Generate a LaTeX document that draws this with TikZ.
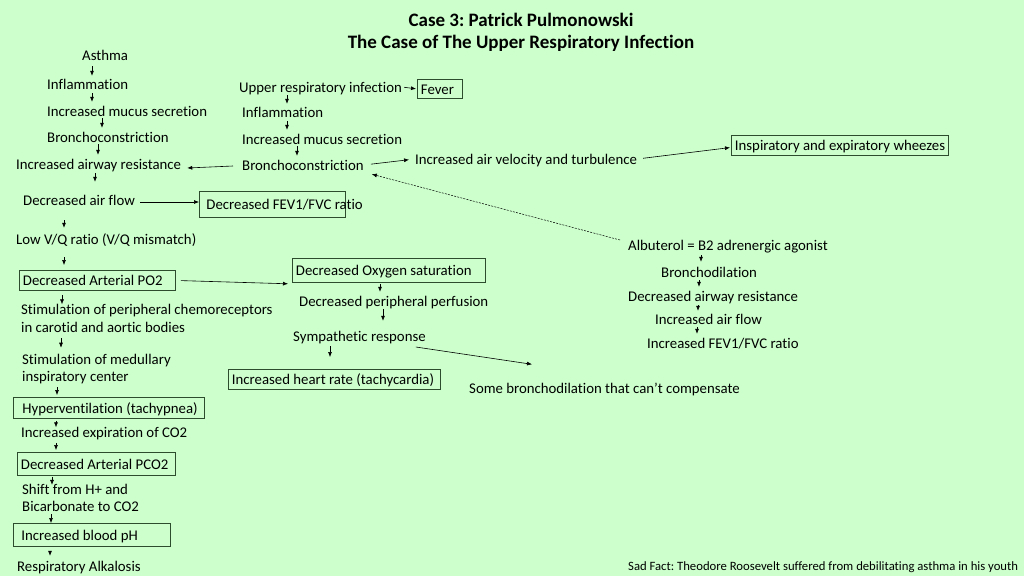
\documentclass[tikz,border=0pt]{standalone}
\usepackage{fontspec}
\setmainfont{Carlito}[Ligatures=NoCommon]
\usetikzlibrary{arrows.meta}
\definecolor{bg}{RGB}{204,255,204}
\definecolor{bord}{RGB}{45,75,45}
\frenchspacing
\begin{document}
\begin{tikzpicture}[x=1pt,y=-1pt,
  base/.style={inner sep=0pt, font=\fontsize{14.8}{17.5}\selectfont},
  txt/.style={base, anchor=west, text height=12pt, text depth=1pt},
  ml/.style={base, anchor=west, align=left},
  bx/.style={draw=bord, line width=0.9pt, anchor=north west, inner xsep=3.5pt, inner ysep=0pt,
             font=\fontsize{14.8}{17.5}\selectfont, text height=12pt, text depth=1pt},
  ttl/.style={inner sep=0pt, font=\fontsize{19}{22}\selectfont\bfseries},
  arr/.style={-{Latex[length=5pt,width=4pt]}, line width=0.6pt},
  sh/.style 2 args={arr, shorten <=#1, shorten >=#2}
]
\fill[bg] (0,0) rectangle (1024,576);
\useasboundingbox (0,0) rectangle (1024,576);

% title
\node[ttl] (t1) at (521,19.5) {Case 3: Patrick Pulmonowski};
\node[ttl] (t2) at (521,43.5) {The Case of The Upper Respiratory Infection};

% left column
\node[txt] (asthma) at (82,55) {Asthma};
\node[txt] (inf1) at (47,84) {Inflammation};
\node[txt] (mucus1) at (47,111) {Increased mucus secretion};
\node[txt] (bronch1) at (47,137) {Bronchoconstriction};
\node[txt] (iar) at (16,164) {Increased airway resistance};
\node[txt] (daf) at (23,200) {Decreased air flow};
\node[bx, minimum height=26pt] (fev) at (199,191) {\makebox[139pt][l]{\hspace*{3.5pt}Decreased FEV1/FVC ratio}};
\node[txt] (vq) at (16,239) {Low V/Q ratio (V/Q mismatch)};
\node[bx, minimum height=20pt] (po2) at (19,270) {\makebox[149pt][l]{Decreased Arterial PO2}};
\node[ml] (chemo) at (21,318.5) {Stimulation of peripheral chemoreceptors\\in carotid and aortic bodies};
\node[ml] (medul) at (22,369) {Stimulation of medullary\\inspiratory center};
\node[bx, minimum height=21pt] (hyper) at (13,397) {\makebox[184pt][l]{\hspace*{5.5pt}Hyperventilation (tachypnea)}};
\node[txt] (expir) at (21,432) {Increased expiration of CO2};
\node[bx, minimum height=23pt] (pco2) at (17,452) {\makebox[151pt][l]{Decreased Arterial PCO2}};
\node[ml] (shift) at (22,498) {Shift from H+ and\\Bicarbonate to CO2};
\node[bx, minimum height=23pt] (ph) at (13,523) {\makebox[150pt][l]{\hspace*{4.5pt}Increased blood pH}};
\node[txt] (alk) at (17,566) {Respiratory Alkalosis};

% middle column
\node[txt] (uri) at (239,87) {Upper respiratory infection};
\node[bx, minimum height=19pt] (fever) at (417,79) {\makebox[38pt][l]{Fever}};
\node[txt] (inf2) at (242,112) {Inflammation};
\node[txt] (mucus2) at (242,139) {Increased mucus secretion};
\node[txt] (bronch2) at (242,165) {Bronchoconstriction};
\node[txt] (vel) at (415,159) {Increased air velocity and turbulence};
\node[bx, minimum height=20pt] (insp) at (731,135) {\makebox[210pt][l]{Inspiratory and expiratory wheezes}};
\node[bx, minimum height=24pt] (o2sat) at (292,258) {\makebox[186pt][l]{Decreased Oxygen saturation}};
\node[txt] (perf) at (299,301) {Decreased peripheral perfusion};
\node[txt] (symp) at (293,336) {Sympathetic response};
\node[bx, minimum height=20pt] (heart) at (228,369) {\makebox[205pt][l]{Increased heart rate (tachycardia)}};
\node[txt] (some) at (469,388) {Some bronchodilation that can’t compensate};

% right column
\node[txt] (alb) at (628,245) {Albuterol = B2 adrenergic agonist};
\node[txt] (bdil) at (661,272) {Bronchodilation};
\node[txt] (dar) at (628,296) {Decreased airway resistance};
\node[txt] (iaf) at (655,319) {Increased air flow};
\node[txt] (ifev) at (647,343) {Increased FEV1/FVC ratio};

\node[inner sep=0pt, anchor=west, font=\fontsize{12.7}{15}\selectfont, text height=10pt, text depth=1pt] (sad) at (628,566) {Sad Fact: Theodore Roosevelt suffered from debilitating asthma in his youth};

% vertical arrows, left
\draw[sh={4.5pt}{1.5pt}] ([xshift=10pt]asthma.south west) -- ([xshift=10pt]asthma.south west |- inf1.north);
\draw[sh={2.5pt}{2.5pt}] ([xshift=45pt]inf1.south west) -- ([xshift=45pt]inf1.south west |- mucus1.north);
\draw[sh={0.5pt}{2.5pt}] ([xshift=55pt]mucus1.south west) -- ([xshift=55pt]mucus1.south west |- bronch1.north);
\draw[sh={0.5pt}{2.5pt}] ([xshift=51pt]bronch1.south west) -- ([xshift=51pt]bronch1.south west |- iar.north);
\draw[sh={2.5pt}{11.5pt}] ([xshift=79pt]iar.south west) -- ([xshift=79pt]iar.south west |- daf.north);
\draw[sh={13.5pt}{4.5pt}] ([xshift=41pt]daf.south west) -- ([xshift=41pt]daf.south west |- vq.north);
\draw[sh={11.5pt}{5pt}] ([xshift=48pt]vq.south west) -- ([xshift=48pt]vq.south west |- po2.north);
\draw[sh={4pt}{0pt}] ([xshift=43pt]po2.south west) -- ([xshift=43pt]po2.south west |- chemo.north);
\draw[sh={5.5pt}{6pt}] ([xshift=40pt]chemo.south west) -- ([xshift=40pt]chemo.south west |- medul.north);
\draw[sh={3pt}{2pt}] ([xshift=35pt]medul.south west) -- ([xshift=35pt]medul.south west |- hyper.north);
\draw[sh={2pt}{-2pt}] ([xshift=43pt]hyper.south west) -- ([xshift=43pt]hyper.south west |- expir.north);
\draw[sh={4.5pt}{2pt}] ([xshift=35pt]expir.south west) -- ([xshift=35pt]expir.south west |- pco2.north);
\draw[sh={1pt}{-1pt}] ([xshift=35pt]pco2.south west) -- ([xshift=35pt]pco2.south west |- shift.north);
\draw[sh={2pt}{0pt}] ([xshift=29pt]shift.south west) -- ([xshift=29pt]shift.south west |- ph.north);
\draw[sh={4pt}{3.5pt}] ([xshift=37pt]ph.south west) -- ([xshift=37pt]ph.south west |- alk.north);

% vertical arrows, middle
\draw[sh={1.5pt}{1.5pt}] ([xshift=48pt]uri.south west) -- ([xshift=48pt]uri.south west |- inf2.north);
\draw[sh={2.5pt}{2.5pt}] ([xshift=45pt]inf2.south west) -- ([xshift=45pt]inf2.south west |- mucus2.north);
\draw[sh={0.5pt}{2.5pt}] ([xshift=55pt]mucus2.south west) -- ([xshift=55pt]mucus2.south west |- bronch2.north);
\draw[sh={1pt}{2.5pt}] ([xshift=88pt]o2sat.south west) -- ([xshift=88pt]o2sat.south west |- perf.north);
\draw[sh={1.5pt}{8.5pt}] ([xshift=84pt]perf.south west) -- ([xshift=84pt]perf.south west |- symp.north);
\draw[sh={3.5pt}{12pt}] ([xshift=37pt]symp.south west) -- ([xshift=37pt]symp.south west |- heart.north);

% vertical arrows, right
\draw[sh={3.5pt}{3.5pt}] ([xshift=73pt]alb.south west) -- ([xshift=73pt]alb.south west |- bdil.north);
\draw[sh={1.5pt}{2.5pt}] ([xshift=38pt]bdil.south west) -- ([xshift=38pt]bdil.south west |- dar.north);
\draw[sh={2.5pt}{1.5pt}] ([xshift=70pt]dar.south west) -- ([xshift=70pt]dar.south west |- iaf.north);
\draw[sh={1.5pt}{2.5pt}] ([xshift=42pt]iaf.south west) -- ([xshift=42pt]iaf.south west |- ifev.north);

% other connectors
\draw[arr, shorten <=2pt, shorten >=1pt] (uri.east) -- (fever.west);
\draw[arr] ([xshift=-9pt,yshift=-1pt]bronch2.west) -- ([xshift=6pt,yshift=-4pt]iar.east);
\draw[arr, shorten <=7pt, shorten >=6pt] (bronch2.east) -- (vel.west);
\draw[arr, shorten <=6pt, shorten >=1pt] (vel.east) -- ([yshift=-2pt]insp.west);
\draw[arr, dashed, dash pattern=on 2pt off 1.2pt, line width=0.5pt] ([xshift=-8pt,yshift=5pt]alb.west) -- ([xshift=8pt,yshift=-2.5pt]bronch2.south east);
\draw[arr] ([xshift=5pt,yshift=-2pt]daf.east) -- ([yshift=-2pt]daf.east -| fev.west);
\draw[arr, shorten <=5pt, shorten >=4pt] (po2.east) -- ([yshift=-1pt]o2sat.south west);
\draw[arr] ([xshift=-10pt,yshift=-11pt]symp.east) -- ([xshift=63pt,yshift=17pt]some.north west);
\end{tikzpicture}
\end{document}
